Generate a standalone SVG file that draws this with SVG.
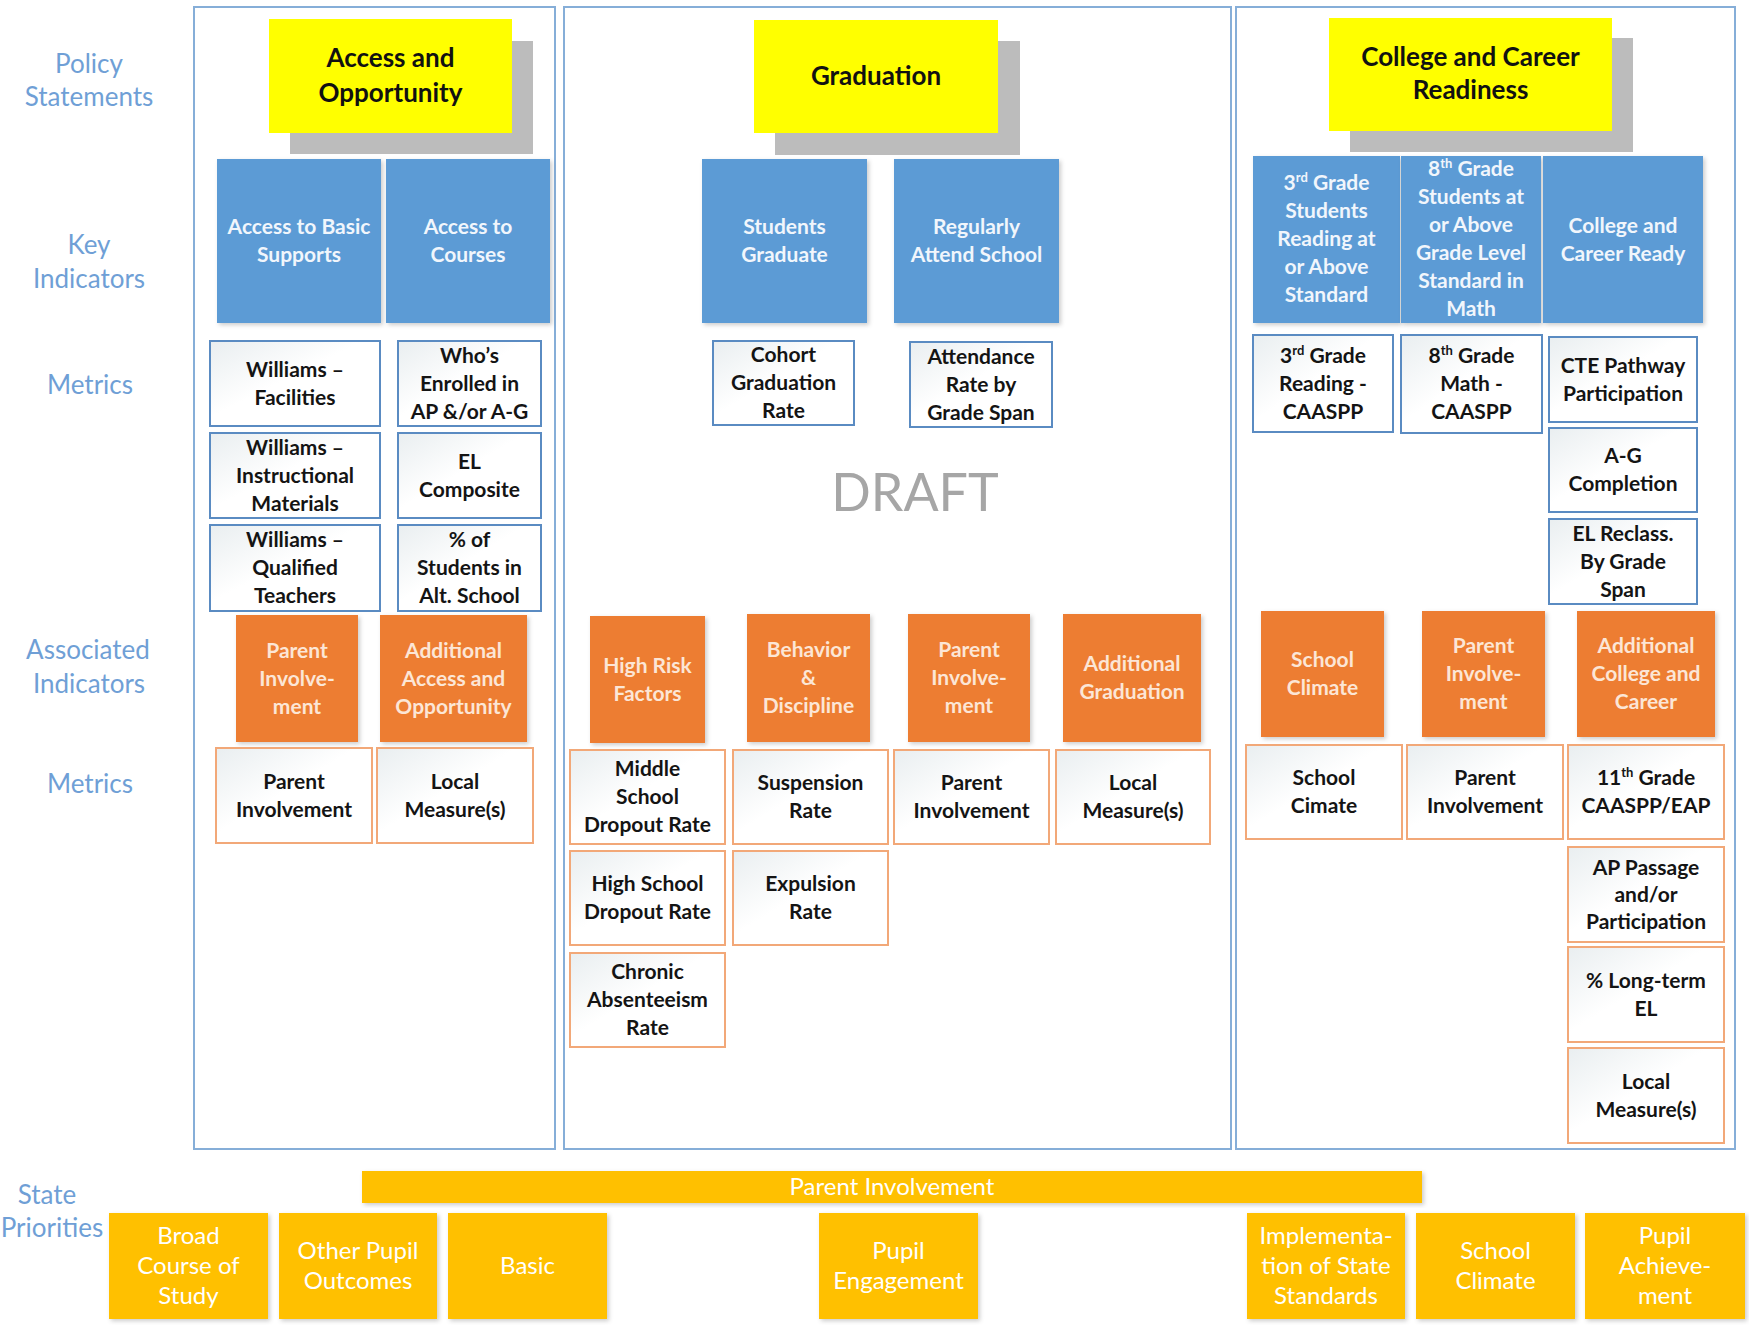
<svg xmlns="http://www.w3.org/2000/svg" width="1749" height="1325" viewBox="0 0 1749 1325">
  <style>
    text { font-family: Lato, "Liberation Sans", sans-serif; text-anchor: middle; }
    .panel { fill: none; stroke: #86aed8; stroke-width: 2; }
    .lbl { font-size: 26px; fill: #6f9fd6; }
    .shadow { fill: #bcbcbc; }
    .policy { fill: #ffff00; }
    .ptxt { font-size: 26px; font-weight: bold; fill: #111; }
    .key { fill: #5b9bd5; filter: url(#soft); }
    .ktxt { font-size: 21px; font-weight: bold; fill: #f1f6fc; }
    .met { fill: url(#gm); stroke: #5a8bc2; stroke-width: 2; }
    .mtxt { font-size: 21px; font-weight: bold; fill: #141414; }
    .assoc { fill: #ed7d31; filter: url(#soft); }
    .atxt { font-size: 21px; font-weight: bold; fill: #fce6d6; }
    .omet { fill: url(#gm); stroke: #f2a878; stroke-width: 2; }
    .prio { fill: #ffc000; filter: url(#soft); }
    .prtxt { font-size: 24px; fill: #ffffff; }
    .draft { font-size: 52px; fill: #a6a6a6; }
    .sup { font-size: 13px; }
  </style>
  <defs>
    <linearGradient id="gm" x1="0" y1="0" x2="1" y2="1">
      <stop offset="0" stop-color="#e9eef0"/>
      <stop offset="0.45" stop-color="#ffffff"/>
      <stop offset="1" stop-color="#ffffff"/>
    </linearGradient>
    <filter id="soft" x="-10%" y="-10%" width="125%" height="125%">
      <feDropShadow dx="2" dy="2" stdDeviation="2" flood-color="#000" flood-opacity="0.2"/>
    </filter>
  </defs>

  <!-- row labels -->
  <g id="row-labels">
    <text class="lbl" x="89" y="73">Policy</text>
    <text class="lbl" x="89" y="106">Statements</text>
    <text class="lbl" x="89" y="254">Key</text>
    <text class="lbl" x="89" y="288">Indicators</text>
    <text class="lbl" x="90" y="394">Metrics</text>
    <text class="lbl" x="88" y="659">Associated</text>
    <text class="lbl" x="89" y="693">Indicators</text>
    <text class="lbl" x="90" y="793">Metrics</text>
    <text class="lbl" x="47" y="1204">State</text>
    <text class="lbl" x="52" y="1237">Priorities</text>
  </g>

  <!-- column frames -->
  <g id="panels">
    <rect class="panel" x="194" y="7" width="361" height="1142"/>
    <rect class="panel" x="564" y="7" width="667" height="1142"/>
    <rect class="panel" x="1236" y="7" width="499" height="1142"/>
  </g>

  <!-- ===== Access and Opportunity ===== -->
  <g id="policy-access">
    <rect class="shadow" x="290" y="41" width="243" height="113"/>
    <rect class="policy" x="269" y="19" width="243" height="114"/>
    <text class="ptxt" x="390.5" y="67">Access and</text>
    <text class="ptxt" x="390.5" y="102">Opportunity</text>
  </g>
  <g id="key-basic-supports">
    <rect class="key" x="217" y="159" width="164" height="164"/>
    <text class="ktxt" x="299" y="234">Access to Basic</text>
    <text class="ktxt" x="299" y="262">Supports</text>
  </g>
  <g id="key-courses">
    <rect class="key" x="386" y="159" width="164" height="164"/>
    <text class="ktxt" x="468" y="234">Access to</text>
    <text class="ktxt" x="468" y="262">Courses</text>
  </g>
  <g id="met-facilities">
    <rect class="met" x="210" y="341" width="170" height="85"/>
    <text class="mtxt" x="295" y="376.5">Williams –</text>
    <text class="mtxt" x="295" y="404.5">Facilities</text>
  </g>
  <g id="met-materials">
    <rect class="met" x="210" y="433" width="170" height="85"/>
    <text class="mtxt" x="295" y="454.5">Williams –</text>
    <text class="mtxt" x="295" y="482.5">Instructional</text>
    <text class="mtxt" x="295" y="510.5">Materials</text>
  </g>
  <g id="met-teachers">
    <rect class="met" x="210" y="525" width="170" height="86"/>
    <text class="mtxt" x="295" y="547">Williams –</text>
    <text class="mtxt" x="295" y="575">Qualified</text>
    <text class="mtxt" x="295" y="603">Teachers</text>
  </g>
  <g id="met-enrolled">
    <rect class="met" x="398" y="341" width="143" height="85"/>
    <text class="mtxt" x="469.5" y="362.5">Who’s</text>
    <text class="mtxt" x="469.5" y="390.5">Enrolled in</text>
    <text class="mtxt" x="469.5" y="418.5">AP &amp;/or A-G</text>
  </g>
  <g id="met-el-composite">
    <rect class="met" x="398" y="433" width="143" height="85"/>
    <text class="mtxt" x="469.5" y="468.5">EL</text>
    <text class="mtxt" x="469.5" y="496.5">Composite</text>
  </g>
  <g id="met-alt-school">
    <rect class="met" x="398" y="525" width="143" height="86"/>
    <text class="mtxt" x="469.5" y="547">% of</text>
    <text class="mtxt" x="469.5" y="575">Students in</text>
    <text class="mtxt" x="469.5" y="603">Alt. School</text>
  </g>
  <g id="assoc-parent-1">
    <rect class="assoc" x="236" y="615" width="122" height="127"/>
    <text class="atxt" x="297" y="657.5">Parent</text>
    <text class="atxt" x="297" y="685.5">Involve-</text>
    <text class="atxt" x="297" y="713.5">ment</text>
  </g>
  <g id="assoc-additional-access">
    <rect class="assoc" x="380" y="615" width="147" height="127"/>
    <text class="atxt" x="453.5" y="657.5">Additional</text>
    <text class="atxt" x="453.5" y="685.5">Access and</text>
    <text class="atxt" x="453.5" y="713.5">Opportunity</text>
  </g>
  <g id="omet-parent-1">
    <rect class="omet" x="216" y="748" width="156" height="95"/>
    <text class="mtxt" x="294" y="788.5">Parent</text>
    <text class="mtxt" x="294" y="816.5">Involvement</text>
  </g>
  <g id="omet-local-1">
    <rect class="omet" x="377" y="748" width="156" height="95"/>
    <text class="mtxt" x="455" y="788.5">Local</text>
    <text class="mtxt" x="455" y="816.5">Measure(s)</text>
  </g>

  <!-- ===== Graduation ===== -->
  <g id="policy-graduation">
    <rect class="shadow" x="775" y="41" width="245" height="114"/>
    <rect class="policy" x="754" y="20" width="244" height="113"/>
    <text class="ptxt" x="876" y="85">Graduation</text>
  </g>
  <g id="key-students-graduate">
    <rect class="key" x="702" y="159" width="165" height="164"/>
    <text class="ktxt" x="784.5" y="234">Students</text>
    <text class="ktxt" x="784.5" y="262">Graduate</text>
  </g>
  <g id="key-attend-school">
    <rect class="key" x="894" y="159" width="165" height="164"/>
    <text class="ktxt" x="976.5" y="234">Regularly</text>
    <text class="ktxt" x="976.5" y="262">Attend School</text>
  </g>
  <g id="met-cohort">
    <rect class="met" x="713" y="341" width="141" height="84"/>
    <text class="mtxt" x="783.5" y="362">Cohort</text>
    <text class="mtxt" x="783.5" y="390">Graduation</text>
    <text class="mtxt" x="783.5" y="418">Rate</text>
  </g>
  <g id="met-attendance">
    <rect class="met" x="910" y="342" width="142" height="85"/>
    <text class="mtxt" x="981" y="363.5">Attendance</text>
    <text class="mtxt" x="981" y="391.5">Rate by</text>
    <text class="mtxt" x="981" y="419.5">Grade Span</text>
  </g>
  <text class="draft" x="915" y="511">DRAFT</text>
  <g id="assoc-high-risk">
    <rect class="assoc" x="590" y="616" width="115" height="127"/>
    <text class="atxt" x="647.5" y="672.5">High Risk</text>
    <text class="atxt" x="647.5" y="700.5">Factors</text>
  </g>
  <g id="assoc-behavior">
    <rect class="assoc" x="747" y="614" width="123" height="128"/>
    <text class="atxt" x="808.5" y="657">Behavior</text>
    <text class="atxt" x="808.5" y="685">&amp;</text>
    <text class="atxt" x="808.5" y="713">Discipline</text>
  </g>
  <g id="assoc-parent-2">
    <rect class="assoc" x="908" y="614" width="122" height="128"/>
    <text class="atxt" x="969" y="657">Parent</text>
    <text class="atxt" x="969" y="685">Involve-</text>
    <text class="atxt" x="969" y="713">ment</text>
  </g>
  <g id="assoc-additional-graduation">
    <rect class="assoc" x="1063" y="614" width="138" height="128"/>
    <text class="atxt" x="1132" y="671">Additional</text>
    <text class="atxt" x="1132" y="699">Graduation</text>
  </g>
  <g id="omet-ms-dropout">
    <rect class="omet" x="570" y="750" width="155" height="94"/>
    <text class="mtxt" x="647.5" y="776">Middle</text>
    <text class="mtxt" x="647.5" y="804">School</text>
    <text class="mtxt" x="647.5" y="832">Dropout Rate</text>
  </g>
  <g id="omet-suspension">
    <rect class="omet" x="733" y="750" width="155" height="94"/>
    <text class="mtxt" x="810.5" y="790">Suspension</text>
    <text class="mtxt" x="810.5" y="818">Rate</text>
  </g>
  <g id="omet-parent-2">
    <rect class="omet" x="894" y="750" width="155" height="94"/>
    <text class="mtxt" x="971.5" y="790">Parent</text>
    <text class="mtxt" x="971.5" y="818">Involvement</text>
  </g>
  <g id="omet-local-2">
    <rect class="omet" x="1056" y="750" width="154" height="94"/>
    <text class="mtxt" x="1133" y="790">Local</text>
    <text class="mtxt" x="1133" y="818">Measure(s)</text>
  </g>
  <g id="omet-hs-dropout">
    <rect class="omet" x="570" y="851" width="155" height="94"/>
    <text class="mtxt" x="647.5" y="891">High School</text>
    <text class="mtxt" x="647.5" y="919">Dropout Rate</text>
  </g>
  <g id="omet-expulsion">
    <rect class="omet" x="733" y="851" width="155" height="94"/>
    <text class="mtxt" x="810.5" y="891">Expulsion</text>
    <text class="mtxt" x="810.5" y="919">Rate</text>
  </g>
  <g id="omet-chronic">
    <rect class="omet" x="570" y="953" width="155" height="94"/>
    <text class="mtxt" x="647.5" y="979">Chronic</text>
    <text class="mtxt" x="647.5" y="1007">Absenteeism</text>
    <text class="mtxt" x="647.5" y="1035">Rate</text>
  </g>

  <!-- ===== College and Career Readiness ===== -->
  <g id="policy-college">
    <rect class="shadow" x="1350" y="38" width="283" height="114"/>
    <rect class="policy" x="1329" y="18" width="283" height="113"/>
    <text class="ptxt" x="1470.5" y="66">College and Career</text>
    <text class="ptxt" x="1470.5" y="99">Readiness</text>
  </g>
  <g id="key-grade3-reading">
    <rect class="key" x="1253" y="156" width="147" height="167"/>
    <text class="ktxt" x="1326.5" y="189.5">3<tspan class="sup" dy="-8">rd</tspan><tspan dy="8"> Grade</tspan></text>
    <text class="ktxt" x="1326.5" y="217.5">Students</text>
    <text class="ktxt" x="1326.5" y="245.5">Reading at</text>
    <text class="ktxt" x="1326.5" y="273.5">or Above</text>
    <text class="ktxt" x="1326.5" y="301.5">Standard</text>
  </g>
  <g id="key-grade8-math">
    <rect class="key" x="1401" y="156" width="140" height="167"/>
    <text class="ktxt" x="1471" y="175.5">8<tspan class="sup" dy="-8">th</tspan><tspan dy="8"> Grade</tspan></text>
    <text class="ktxt" x="1471" y="203.5">Students  at</text>
    <text class="ktxt" x="1471" y="231.5">or Above</text>
    <text class="ktxt" x="1471" y="259.5">Grade Level</text>
    <text class="ktxt" x="1471" y="287.5">Standard in</text>
    <text class="ktxt" x="1471" y="315.5">Math</text>
  </g>
  <g id="key-college-ready">
    <rect class="key" x="1543" y="156" width="160" height="167"/>
    <text class="ktxt" x="1623" y="232.5">College and</text>
    <text class="ktxt" x="1623" y="260.5">Career Ready</text>
  </g>
  <g id="met-grade3-caaspp">
    <rect class="met" x="1253" y="335" width="140" height="97"/>
    <text class="mtxt" x="1323" y="362.5">3<tspan class="sup" dy="-8">rd</tspan><tspan dy="8"> Grade</tspan></text>
    <text class="mtxt" x="1323" y="390.5">Reading -</text>
    <text class="mtxt" x="1323" y="418.5">CAASPP</text>
  </g>
  <g id="met-grade8-caaspp">
    <rect class="met" x="1401" y="335" width="141" height="98"/>
    <text class="mtxt" x="1471.5" y="363">8<tspan class="sup" dy="-8">th</tspan><tspan dy="8"> Grade</tspan></text>
    <text class="mtxt" x="1471.5" y="391">Math -</text>
    <text class="mtxt" x="1471.5" y="419">CAASPP</text>
  </g>
  <g id="met-cte">
    <rect class="met" x="1549" y="337" width="148" height="85"/>
    <text class="mtxt" x="1623" y="372.5">CTE Pathway</text>
    <text class="mtxt" x="1623" y="400.5">Participation</text>
  </g>
  <g id="met-ag">
    <rect class="met" x="1549" y="428" width="148" height="84"/>
    <text class="mtxt" x="1623" y="463">A-G</text>
    <text class="mtxt" x="1623" y="491">Completion</text>
  </g>
  <g id="met-el-reclass">
    <rect class="met" x="1549" y="519" width="148" height="85"/>
    <text class="mtxt" x="1623" y="540.5">EL Reclass.</text>
    <text class="mtxt" x="1623" y="568.5">By Grade</text>
    <text class="mtxt" x="1623" y="596.5">Span</text>
  </g>
  <g id="assoc-school-climate">
    <rect class="assoc" x="1261" y="611" width="123" height="126"/>
    <text class="atxt" x="1322.5" y="667">School</text>
    <text class="atxt" x="1322.5" y="695">Climate</text>
  </g>
  <g id="assoc-parent-3">
    <rect class="assoc" x="1422" y="611" width="123" height="126"/>
    <text class="atxt" x="1483.5" y="653">Parent</text>
    <text class="atxt" x="1483.5" y="681">Involve-</text>
    <text class="atxt" x="1483.5" y="709">ment</text>
  </g>
  <g id="assoc-additional-college">
    <rect class="assoc" x="1577" y="611" width="138" height="126"/>
    <text class="atxt" x="1646" y="653">Additional</text>
    <text class="atxt" x="1646" y="681">College and</text>
    <text class="atxt" x="1646" y="709">Career</text>
  </g>
  <g id="omet-school-climate">
    <rect class="omet" x="1246" y="745" width="156" height="94"/>
    <text class="mtxt" x="1324" y="785">School</text>
    <text class="mtxt" x="1324" y="813">Cimate</text>
  </g>
  <g id="omet-parent-3">
    <rect class="omet" x="1407" y="745" width="156" height="94"/>
    <text class="mtxt" x="1485" y="785">Parent</text>
    <text class="mtxt" x="1485" y="813">Involvement</text>
  </g>
  <g id="omet-grade11">
    <rect class="omet" x="1568" y="745" width="156" height="94"/>
    <text class="mtxt" x="1646" y="785">11<tspan class="sup" dy="-8">th</tspan><tspan dy="8"> Grade</tspan></text>
    <text class="mtxt" x="1646" y="813">CAASPP/EAP</text>
  </g>
  <g id="omet-ap-passage">
    <rect class="omet" x="1568" y="847" width="156" height="95"/>
    <text class="mtxt" x="1646" y="874.5">AP Passage</text>
    <text class="mtxt" x="1646" y="901.5">and/or</text>
    <text class="mtxt" x="1646" y="928.5">Participation</text>
  </g>
  <g id="omet-long-term-el">
    <rect class="omet" x="1568" y="947" width="156" height="95"/>
    <text class="mtxt" x="1646" y="987.5">% Long-term</text>
    <text class="mtxt" x="1646" y="1015.5">EL</text>
  </g>
  <g id="omet-local-3">
    <rect class="omet" x="1568" y="1048" width="156" height="95"/>
    <text class="mtxt" x="1646" y="1088.5">Local</text>
    <text class="mtxt" x="1646" y="1116.5">Measure(s)</text>
  </g>

  <!-- ===== State priorities ===== -->
  <g id="prio-parent-involvement">
    <rect class="prio" x="362" y="1171" width="1060" height="32"/>
    <text class="prtxt" x="892" y="1195">Parent Involvement</text>
  </g>
  <g id="prio-broad-course">
    <rect class="prio" x="109" y="1213" width="159" height="106"/>
    <text class="prtxt" x="188.5" y="1244">Broad</text>
    <text class="prtxt" x="188.5" y="1274">Course of</text>
    <text class="prtxt" x="188.5" y="1304">Study</text>
  </g>
  <g id="prio-other-outcomes">
    <rect class="prio" x="279" y="1213" width="158" height="106"/>
    <text class="prtxt" x="358" y="1259">Other Pupil</text>
    <text class="prtxt" x="358" y="1289">Outcomes</text>
  </g>
  <g id="prio-basic">
    <rect class="prio" x="448" y="1213" width="159" height="106"/>
    <text class="prtxt" x="527.5" y="1274">Basic</text>
  </g>
  <g id="prio-engagement">
    <rect class="prio" x="819" y="1213" width="159" height="106"/>
    <text class="prtxt" x="898.5" y="1259">Pupil</text>
    <text class="prtxt" x="898.5" y="1289">Engagement</text>
  </g>
  <g id="prio-standards">
    <rect class="prio" x="1247" y="1213" width="158" height="106"/>
    <text class="prtxt" x="1326" y="1244">Implementa-</text>
    <text class="prtxt" x="1326" y="1274">tion of State</text>
    <text class="prtxt" x="1326" y="1304">Standards</text>
  </g>
  <g id="prio-school-climate">
    <rect class="prio" x="1416" y="1213" width="159" height="106"/>
    <text class="prtxt" x="1495.5" y="1259">School</text>
    <text class="prtxt" x="1495.5" y="1289">Climate</text>
  </g>
  <g id="prio-achievement">
    <rect class="prio" x="1585" y="1213" width="160" height="106"/>
    <text class="prtxt" x="1665" y="1244">Pupil</text>
    <text class="prtxt" x="1665" y="1274">Achieve-</text>
    <text class="prtxt" x="1665" y="1304">ment</text>
  </g>
</svg>
